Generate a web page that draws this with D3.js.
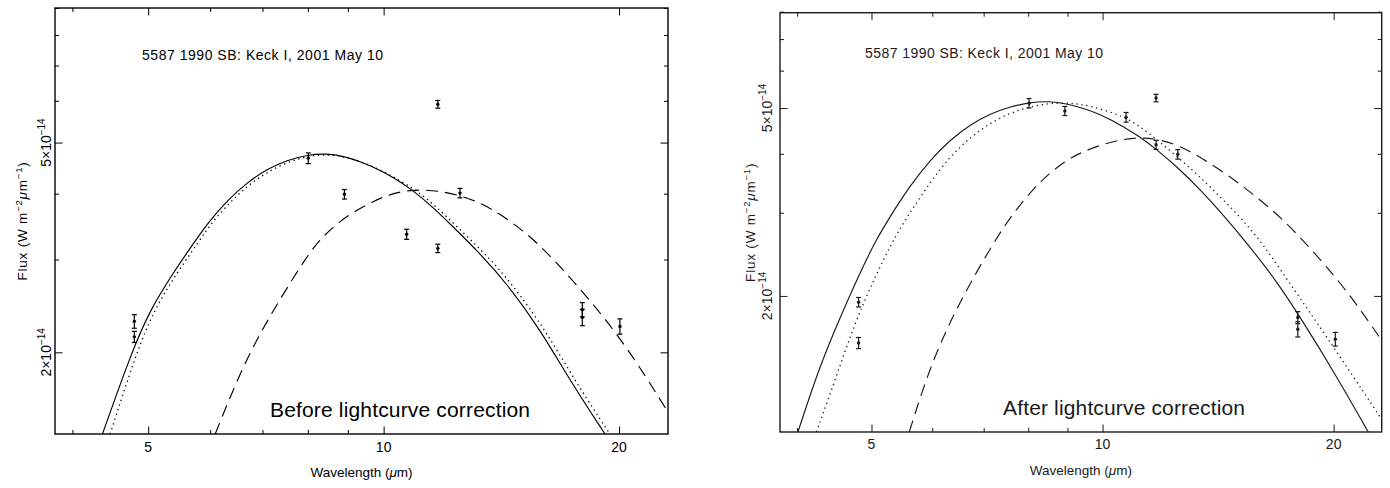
<!DOCTYPE html>
<html>
<head>
<meta charset="utf-8">
<script src="https://cdn.jsdelivr.net/npm/d3@7"></script>
<style>
  html, body { margin: 0; padding: 0; background: #fff; }
  svg { display: block; font-family: "Liberation Sans", Arial, Helvetica, sans-serif; }
</style>
</head>
<body>
<svg id="chart" width="1390" height="488"></svg>
<script>
// axis ticks (wavelength in micron, flux in units of 1e-14 W m^-2 um^-1)
const wavelengthRange = [3.8, 23.1];
const wavelengthTicks = [4, 5, 6, 7, 8, 9, 10, 20];
const wavelengthLabels = [5, 10, 20];
const fluxTicksBefore = [2, 3, 4, 5, 6, 7, 8, 9];
const fluxTicksAfter = [2, 3, 4, 5, 6, 7, 8];
const fluxLabels = [2, 5];

const titleText = "5587 1990 SB: Keck I, 2001 May 10";
const noteBefore = "Before lightcurve correction";
const noteAfter = "After lightcurve correction";

// observed points: [wavelength, flux, error]
const obsBefore = [
  [4.80, 2.29, 0.068], [4.80, 2.14, 0.052], [8.01, 4.67, 0.109], [8.91, 3.99, 0.083],
  [10.70, 3.35, 0.074], [11.73, 5.91, 0.099], [11.73, 3.15, 0.058], [12.52, 4.01, 0.083],
  [17.95, 2.41, 0.075], [17.95, 2.33, 0.083], [20.05, 2.24, 0.075],
];
const obsAfter = [
  [4.81, 1.94, 0.045], [4.81, 1.59, 0.043], [8.02, 5.12, 0.118], [8.93, 4.93, 0.109],
  [10.73, 4.78, 0.113], [11.74, 5.25, 0.096], [11.74, 4.18, 0.093], [12.53, 3.99, 0.093],
  [17.96, 1.80, 0.053], [17.96, 1.70, 0.063], [20.10, 1.62, 0.054],
];

// model curves: [wavelength, flux]
const solidBefore = [
  [4.37, 1.40], [4.76, 2.00], [5.03, 2.41], [5.38, 2.83], [5.74, 3.25], [5.96, 3.52],
  [6.32, 3.89], [6.69, 4.20], [7.11, 4.46], [7.52, 4.63], [8.00, 4.74], [8.44, 4.77],
  [8.98, 4.70], [9.61, 4.53], [10.28, 4.30], [10.90, 4.06], [11.56, 3.77], [12.27, 3.46],
  [13.28, 3.08], [14.38, 2.70], [15.85, 2.21], [17.47, 1.73], [19.19, 1.40],
];
const dottedBefore = [
  [4.47, 1.40], [4.83, 2.00], [5.09, 2.41], [5.44, 2.83], [5.81, 3.25], [6.02, 3.52],
  [6.38, 3.87], [6.75, 4.18], [7.16, 4.43], [7.59, 4.61], [8.05, 4.72], [8.49, 4.75],
  [9.00, 4.69], [9.69, 4.51], [10.37, 4.28], [11.03, 4.05], [11.70, 3.77], [12.41, 3.46],
  [13.48, 3.08], [14.59, 2.70], [16.08, 2.21], [17.72, 1.73], [19.47, 1.40],
];
const dashedBefore = [
  [6.09, 1.40], [6.57, 1.85], [7.09, 2.30], [8.00, 3.07], [8.37, 3.33], [8.98, 3.64],
  [9.69, 3.87], [10.28, 4.01], [10.90, 4.07], [11.70, 4.06], [12.79, 3.94], [13.80, 3.74],
  [14.94, 3.44], [15.85, 3.19], [17.47, 2.74], [20.24, 2.11], [23.1, 1.54],
];
const solidAfter = [
  [4.01, 1.03], [4.28, 1.42], [4.55, 1.80], [4.83, 2.24], [5.07, 2.63], [5.29, 2.95],
  [5.61, 3.42], [5.96, 3.88], [6.33, 4.28], [6.72, 4.61], [7.13, 4.86], [7.57, 5.03],
  [8.04, 5.14], [8.50, 5.17], [8.98, 5.11], [9.63, 4.95], [10.22, 4.75], [11.19, 4.35],
  [11.77, 4.08], [12.49, 3.76], [13.40, 3.36], [14.36, 2.97], [15.41, 2.59], [16.86, 2.15],
  [18.26, 1.76], [19.97, 1.39], [22.19, 1.03],
];
const dottedAfter = [
  [4.24, 1.03], [4.52, 1.38], [4.83, 1.88], [5.33, 2.63], [5.61, 3.00], [5.96, 3.48],
  [6.33, 3.95], [6.72, 4.33], [7.13, 4.64], [7.57, 4.88], [8.04, 5.03], [8.54, 5.12],
  [9.07, 5.13], [9.63, 5.06], [10.64, 4.81], [11.19, 4.57], [11.77, 4.29], [12.49, 3.95],
  [13.26, 3.63], [14.36, 3.20], [15.56, 2.79], [16.53, 2.45], [17.55, 2.12], [19.39, 1.68],
  [22.98, 1.11],
];
const dashedAfter = [
  [5.60, 1.03], [5.96, 1.42], [6.46, 1.90], [7.24, 2.63], [7.73, 3.07], [8.37, 3.56],
  [8.98, 3.88], [9.44, 4.05], [10.22, 4.24], [10.96, 4.33], [11.77, 4.31], [12.61, 4.16],
  [13.53, 3.90], [14.66, 3.58], [15.88, 3.24], [17.20, 2.90], [18.63, 2.53], [20.80, 2.06],
  [23.1, 1.61],
];

(function () {
  const svg = d3.select("#chart");

  const panels = [
    {
      key: "before",
      ink: "#000",
      box: { left: 55, right: 668, top: 8, bottom: 434 },
      yDomain: [1.4, 9],
      yTicks: fluxTicksBefore,
      obs: obsBefore,
      curves: [solidBefore, dottedBefore, dashedBefore],
      note: noteBefore,
      title: { x: 142, y: 60, len: 241 },
      notePos: { x: 270, y: 417, len: 260 },
      xLabelY: 451.5,
      xTitleY: 477,
      yLabelX: 50.7,
      yTitleX: 27,
    },
    {
      key: "after",
      ink: "#1a1a1a",
      box: { left: 780, right: 1381.7, top: 12.7, bottom: 432 },
      yDomain: [1.03, 7.96],
      yTicks: fluxTicksAfter,
      obs: obsAfter,
      curves: [solidAfter, dottedAfter, dashedAfter],
      note: noteAfter,
      title: { x: 865, y: 58.3, len: 238 },
      notePos: { x: 1003, y: 415, len: 242 },
      xLabelY: 449,
      xTitleY: 475,
      yLabelX: 771.7,
      yTitleX: 755,
    },
  ];

  const curveStyles = [
    { dash: null, width: 1.15 },
    { dash: "1.3 3.7", width: 1.3 },
    { dash: "12 7", width: 1.15 },
  ];

  function drawPanel(p) {
    const { box } = p;
    const x = d3.scaleLog().domain(wavelengthRange).range([box.left, box.right]);
    const y = d3.scaleLog().domain(p.yDomain).range([box.bottom, box.top]);
    const g = svg.append("g").attr("class", `panel panel--${p.key}`).attr("color", p.ink);

    const clipId = `clip-${p.key}`;
    svg.append("clipPath").attr("id", clipId)
      .append("rect")
      .attr("x", box.left)
      .attr("y", box.top)
      .attr("width", box.right - box.left)
      .attr("height", box.bottom - box.top);

    // ticks on all four sides, pointing inward
    const yMajor = fluxLabels.filter((v) => p.yTicks.includes(v));
    const sides = [
      { make: () => d3.axisBottom(x), values: wavelengthTicks, major: wavelengthLabels, at: `translate(0,${box.bottom})` },
      { make: () => d3.axisTop(x), values: wavelengthTicks, major: wavelengthLabels, at: `translate(0,${box.top})` },
      { make: () => d3.axisLeft(y), values: p.yTicks, major: yMajor, at: `translate(${box.left},0)` },
      { make: () => d3.axisRight(y), values: p.yTicks, major: yMajor, at: `translate(${box.right},0)` },
    ];
    sides.forEach((side) => {
      const minor = side.values.filter((v) => !side.major.includes(v));
      [[minor, 4], [side.major, 7.5]].forEach(([vals, len]) => {
        g.append("g")
          .attr("transform", side.at)
          .call(side.make().tickValues(vals).tickSize(-len).tickFormat(""))
          .call((a) => a.select(".domain").remove())
          .call((a) => a.selectAll("line").attr("stroke-width", 1));
      });
    });

    g.append("rect")
      .attr("x", box.left)
      .attr("y", box.top)
      .attr("width", box.right - box.left)
      .attr("height", box.bottom - box.top)
      .attr("fill", "none")
      .attr("stroke", "currentColor")
      .attr("stroke-width", 1.4);

    // model curves
    const line = d3.line()
      .x((d) => x(d[0]))
      .y((d) => y(d[1]))
      .curve(d3.curveBasis);
    const curveGroup = g.append("g").attr("clip-path", `url(#${clipId})`);
    p.curves.forEach((pts, i) => {
      const style = curveStyles[i];
      curveGroup.append("path")
        .datum(pts)
        .attr("d", line)
        .attr("fill", "none")
        .attr("stroke", "currentColor")
        .attr("stroke-width", style.width)
        .attr("stroke-dasharray", style.dash);
    });

    // observations with error bars
    const obsGroup = g.append("g").attr("class", "obs").attr("stroke", "currentColor");
    obsGroup.selectAll("line.bar")
      .data(p.obs)
      .join("line")
      .attr("class", "bar")
      .attr("x1", (d) => x(d[0]))
      .attr("x2", (d) => x(d[0]))
      .attr("y1", (d) => y(d[1] - d[2]))
      .attr("y2", (d) => y(d[1] + d[2]))
      .attr("stroke-width", 1.2);
    [-1, 1].forEach((sign) => {
      obsGroup.selectAll(`line.cap${sign}`)
        .data(p.obs)
        .join("line")
        .attr("class", `cap${sign}`)
        .attr("x1", (d) => x(d[0]) - 2.5)
        .attr("x2", (d) => x(d[0]) + 2.5)
        .attr("y1", (d) => y(d[1] + sign * d[2]))
        .attr("y2", (d) => y(d[1] + sign * d[2]))
        .attr("stroke-width", 1.2);
    });
    obsGroup.selectAll("circle")
      .data(p.obs)
      .join("circle")
      .attr("cx", (d) => x(d[0]))
      .attr("cy", (d) => y(d[1]))
      .attr("r", 1.7)
      .attr("fill", "currentColor")
      .attr("stroke", "none");

    // wavelength tick labels
    g.selectAll("text.xlab")
      .data(wavelengthLabels)
      .join("text")
      .attr("class", "xlab")
      .attr("x", (d) => x(d))
      .attr("y", p.xLabelY)
      .attr("text-anchor", "middle")
      .attr("font-size", 14)
      .attr("fill", "currentColor")
      .text((d) => d);

    // flux tick labels, rotated
    yMajor.forEach((v) => {
      const t = g.append("text")
        .attr("transform", `translate(${p.yLabelX},${y(v)}) rotate(-90)`)
        .attr("text-anchor", "middle")
        .attr("font-size", 14)
        .attr("fill", "currentColor");
      t.append("tspan").text(`${v}×10`);
      t.append("tspan").attr("dy", -6).attr("font-size", 10).text("−14");
    });

    // axis titles
    const xt = g.append("text")
      .attr("x", (box.left + box.right) / 2)
      .attr("y", p.xTitleY)
      .attr("text-anchor", "middle")
      .attr("font-size", 13.5)
      .attr("fill", "currentColor");
    xt.append("tspan").text("Wavelength (");
    xt.append("tspan").attr("font-style", "italic").text("μ");
    xt.append("tspan").text("m)");

    const yt = g.append("text")
      .attr("transform", `translate(${p.yTitleX},${(box.top + box.bottom) / 2}) rotate(-90)`)
      .attr("text-anchor", "middle")
      .attr("font-size", 13.5)
      .attr("letter-spacing", 0.8)
      .attr("fill", "currentColor");
    yt.append("tspan").text("Flux  (W m");
    yt.append("tspan").attr("dy", -5.5).attr("font-size", 9.5).text("−2");
    yt.append("tspan").attr("dy", 5.5).attr("font-style", "italic").text("μ");
    yt.append("tspan").text("m");
    yt.append("tspan").attr("dy", -5.5).attr("font-size", 9.5).text("−1");
    yt.append("tspan").attr("dy", 5.5).text(")");

    g.append("text")
      .attr("x", p.title.x)
      .attr("y", p.title.y)
      .attr("font-size", 14)
      .attr("textLength", p.title.len)
      .attr("lengthAdjust", "spacing")
      .attr("fill", "currentColor")
      .text(titleText);

    g.append("text")
      .attr("x", p.notePos.x)
      .attr("y", p.notePos.y)
      .attr("font-size", 21)
      .attr("textLength", p.notePos.len)
      .attr("lengthAdjust", "spacing")
      .attr("fill", "currentColor")
      .text(p.note);
  }

  panels.forEach(drawPanel);
})();
</script>
</body>
</html>
